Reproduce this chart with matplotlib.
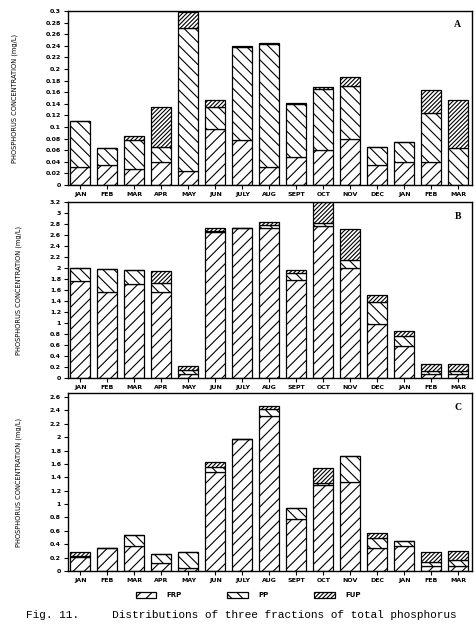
import matplotlib
matplotlib.use('Agg')
import matplotlib.pyplot as plt
import numpy as np

months = ['JAN', 'FEB', 'MAR', 'APR', 'MAY', 'JUN', 'JULY', 'AUG',
          'SEPT', 'OCT', 'NOV', 'DEC', 'JAN', 'FEB', 'MAR']

# panel A (mg/L)
frp_a = [0.031, 0.035, 0.028, 0.040, 0.025, 0.096, 0.077, 0.031, 0.049, 0.060, 0.080, 0.034, 0.040, 0.040, 0.0]
pp_a = [0.080, 0.029, 0.049, 0.026, 0.246, 0.039, 0.161, 0.212, 0.091, 0.106, 0.091, 0.032, 0.035, 0.084, 0.064]
fup_a = [0.0, 0.0, 0.007, 0.069, 0.027, 0.012, 0.001, 0.002, 0.001, 0.003, 0.015, 0.0, 0.0, 0.040, 0.083]

# panel B
frp_b = [1.76, 1.56, 1.71, 1.56, 0.07, 2.66, 2.73, 2.73, 1.78, 2.77, 2.00, 0.99, 0.59, 0.07, 0.07]
pp_b = [0.24, 0.43, 0.25, 0.17, 0.08, 0.01, 0.0, 0.06, 0.13, 0.04, 0.14, 0.40, 0.17, 0.06, 0.06]
fup_b = [0.0, 0.0, 0.0, 0.22, 0.06, 0.05, 0.0, 0.05, 0.06, 0.39, 0.57, 0.11, 0.09, 0.13, 0.12]

# panel C
frp_c = [0.21, 0.34, 0.38, 0.12, 0.05, 1.475, 1.98, 2.315, 0.775, 1.28, 1.33, 0.34, 0.38, 0.07, 0.07]
pp_c = [0.02, 0.0, 0.155, 0.14, 0.23, 0.08, 0.0, 0.10, 0.17, 0.04, 0.395, 0.15, 0.065, 0.06, 0.10]
fup_c = [0.05, 0.0, 0.0, 0.0, 0.0, 0.075, 0.0, 0.05, 0.0, 0.22, 0.0, 0.08, 0.0, 0.15, 0.13]

yticks_a = np.arange(0, 0.301, 0.02)
yticks_b = np.arange(0, 3.21, 0.2)
yticks_c = np.arange(0, 2.61, 0.2)

plt.rcParams['hatch.linewidth'] = 0.8
fig = plt.figure(figsize=(4.77, 6.25), dpi=100)

panels = [
    ([0.1426, 0.704, 0.8469, 0.2784], frp_a, pp_a, fup_a, yticks_a, 0.3, 'A'),
    ([0.1426, 0.3952, 0.8469, 0.2816], frp_b, pp_b, fup_b, yticks_b, 3.2, 'B'),
    ([0.1426, 0.0864, 0.8469, 0.2848], frp_c, pp_c, fup_c, yticks_c, 2.66, 'C'),
]


def fmt(v):
    return '%g' % round(v, 2)


x = np.arange(len(months))
handles = None
for rect, frp, pp, fup, yt, ytop, tag in panels:
    ax = fig.add_axes(rect)
    frp = np.array(frp)
    pp = np.array(pp)
    fup = np.array(fup)
    b1 = ax.bar(x, frp, 0.74, color='white', edgecolor='black', hatch='///', linewidth=0.9)
    b2 = ax.bar(x, pp, 0.74, bottom=frp, color='white', edgecolor='black', hatch='\\\\\\', linewidth=0.9)
    b3 = ax.bar(x, fup, 0.74, bottom=frp + pp, color='white', edgecolor='black', hatch='////////', linewidth=0.9)
    handles = [b1, b2, b3]
    ax.set_xlim(-0.46, 14.5)
    ax.set_ylim(0, ytop)
    ax.set_yticks(yt)
    ax.set_yticklabels([fmt(v) for v in yt], fontsize=4.5, fontweight='bold')
    ax.set_xticks(x)
    ax.set_xticklabels(months, fontsize=4.5, fontweight='bold')
    ax.tick_params(axis='both', length=3, width=0.8, pad=2)
    for s in ax.spines.values():
        s.set_linewidth(1.0)
    ax.set_ylabel('PHOSPHORUS CONCENTRATION (mg/L)', fontsize=4.8, labelpad=20)
    ax.text(0.965, 0.92, tag, transform=ax.transAxes, fontsize=7, fontweight='bold',
            family='Liberation Serif', ha='center', va='center')

fig.legend(handles, ['FRP', 'PP', 'FUP'], loc='center', bbox_to_anchor=(0.52, 0.048),
           ncol=3, frameon=False, handlelength=3.0, handleheight=0.9,
           columnspacing=6.5, handletextpad=1.5, prop={'weight': 'bold', 'size': 5})

fig.text(0.055, 0.016, 'Fig. 11.     Distributions of three fractions of total phosphorus',
         family='Liberation Mono', fontsize=8, ha='left', va='center')

fig.savefig('out.png', dpi=100)
